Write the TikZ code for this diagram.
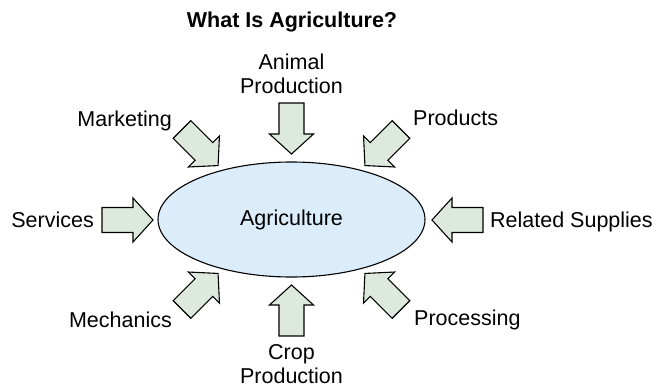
\documentclass[tikz,border=0pt]{standalone}
\usepackage{fontspec}
\setmainfont{Liberation Sans}
\usetikzlibrary{positioning,shapes.geometric}
\definecolor{feedfill}{HTML}{DDE9DC}
\definecolor{corefill}{HTML}{DBECFA}
\tikzset{%
    every node/.style={font=\fontsize{21.5}{24}\selectfont,inner sep=0pt},
    feed/.style={draw=black,line width=1.1pt,fill=feedfill,line join=miter},
    core/.style={ellipse,draw=black,line width=1.1pt,fill=corefill,
        minimum width=267pt,minimum height=115pt},
    lbl/.style={align=center},
    pics/inflow/.style={code={
        \draw[feed] (0,-12.5) -- (31,-12.5) -- (31,-22) -- (51,0)
            -- (31,22) -- (31,12.5) -- (0,12.5) -- cycle;
        \coordinate (-tip) at (51,0);
    }}
}

\begin{document}
\begin{tikzpicture}[x=1pt,y=-1pt]
    \useasboundingbox (0,0) rectangle (657,389);
    \node[font=\fontsize{21.5}{24}\selectfont\bfseries,anchor=base] (title) at (292,27) {What Is Agriculture?};
    \node[core] (agri) at (291.5,219.5) {Agriculture};
    %%%%% arrows, given by the middle of their tail
    \pic (anim) [rotate=-90] at (291.5,103) {inflow};
    \pic (crop) [rotate=90]  at (291.5,336) {inflow};
    \pic (serv)              at (102,220)   {inflow};
    \pic (supp) [rotate=180] at (483,220)   {inflow};
    \pic (mark) [rotate=-45] at (182,129.5) {inflow};
    \pic (prod) [rotate=-135] at (401,129.5) {inflow};
    \pic (mech) [rotate=45]  at (182,309.5) {inflow};
    \pic (proc) [rotate=135] at (401,309.5) {inflow};
    %%%%% labels (base of a two-line label is its last line)
    \node[lbl,anchor=base] (l-anim) at (291.5,93) {Animal\\Production};
    \node[lbl,anchor=base] (l-crop) at (291.5,383) {Crop\\Production};
    \node[anchor=base east] (l-mark) at (172,126) {Marketing};
    \node[anchor=base west] (l-prod) at (413,125) {Products};
    \node[anchor=base east] (l-serv) at (94,227) {Services};
    \node[anchor=base west] (l-supp) at (490,227) {Related Supplies};
    \node[anchor=base east] (l-mech) at (172,327) {Mechanics};
    \node[anchor=base west] (l-proc) at (414,325) {Processing};
\end{tikzpicture}
\end{document}
